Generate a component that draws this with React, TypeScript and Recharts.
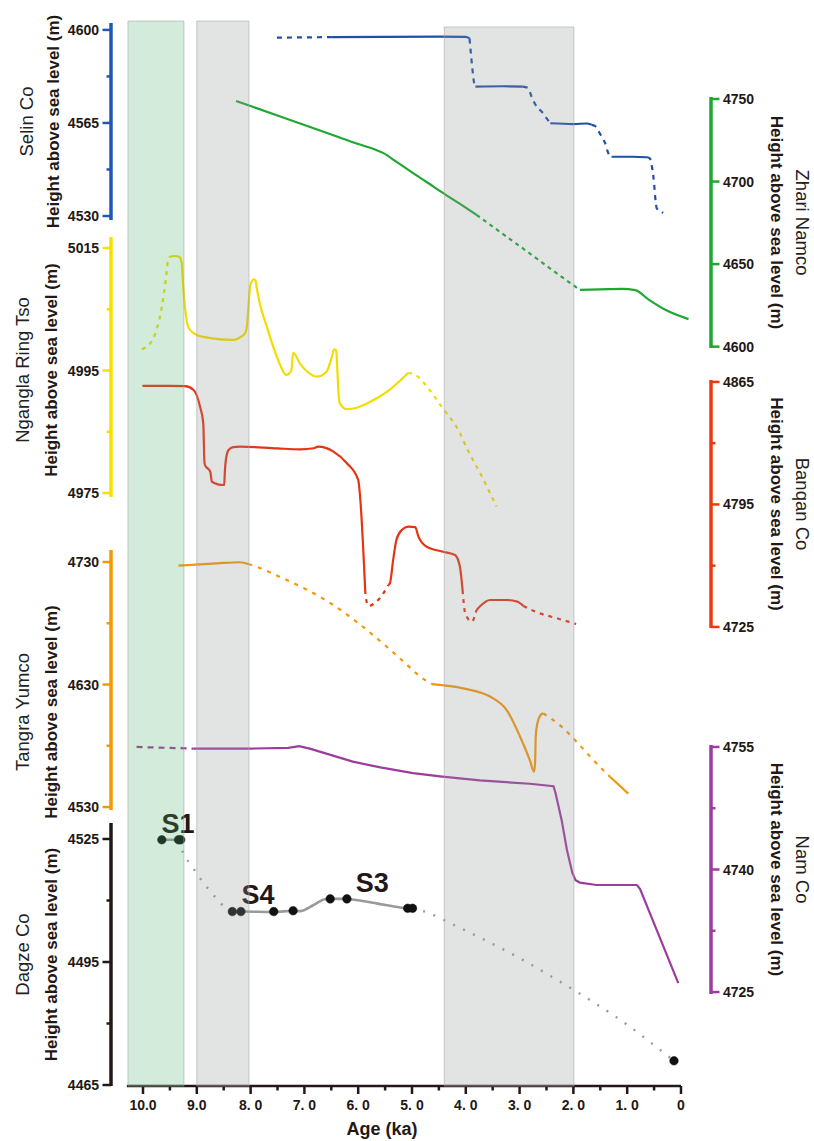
import type { ReactNode } from 'react'
import {
  ComposedChart,
  Line,
  XAxis,
  YAxis,
  ReferenceArea,
  ReferenceLine,
  ReferenceDot,
} from 'recharts'

const W = 814
const H = 1141
const PLOT_L = 111
const PLOT_R = 711
const FONT = '"Liberation Sans", Arial, Helvetica, sans-serif'
const INK = '#231815'

type Pt = [number, number] | null

// age axis (ka), drawn right to left
const ageDomain: [number, number] = [-0.558, 10.595]
const ageAxisSpan = [10.3, 0]
const ageTicks = [10, 9.5, 9, 8.5, 8, 7.5, 7, 6.5, 6, 5.5, 5, 4.5, 4, 3.5, 3, 2.5, 2, 1.5, 1, 0.5, 0]
const ageMajor = [10, 9, 8, 7, 6, 5, 4, 3, 2, 1, 0]
const ageLabels = ['10.0', '9.0', '8. 0', '7. 0', '6. 0', '5. 0', '4. 0', '3. 0', '2. 0', '1. 0', '0']

// shaded intervals (ka)
const bandAges = [
  [10.28, 9.24],
  [9.0, 8.03],
  [4.4, 1.99],
]
const bandTops = [1, 1, 0.9944]

// Selin Co
const selinTicks = [4530, 4547.5, 4565, 4582.5, 4600]
const selinLabels = [4530, 4565, 4600]
const selinSolid: Pt[] = [
  [6.49, 4597.3], [5.5, 4597.4], [4.5, 4597.5], [4.0, 4597.4], [3.93, 4596.8], null,
  [3.82, 4578.7], [3.3, 4578.8], [2.94, 4578.7], null,
  [2.43, 4564.9], [2.0, 4564.6], [1.75, 4564.8], [1.66, 4564.3], null,
  [1.29, 4552.3], [0.9, 4552.3], [0.63, 4552.1],
]
const selinDashed: Pt[] = [
  [7.51, 4597.1], [6.49, 4597.3], null,
  [3.93, 4596.8], [3.9, 4590], [3.87, 4584], [3.84, 4579.5], [3.82, 4578.7], null,
  [2.94, 4578.7], [2.84, 4578.1], [2.78, 4575], [2.68, 4571.1], [2.59, 4569.3], [2.5, 4566.8], [2.43, 4564.9], null,
  [1.66, 4564.3], [1.6, 4563.9], [1.51, 4561.1], [1.41, 4557.4], [1.35, 4553.6], [1.29, 4552.3], null,
  [0.63, 4552.1], [0.58, 4551.7], [0.53, 4547.3], [0.5, 4542.3], [0.48, 4537.3], [0.45, 4532.9], [0.33, 4531.2],
]

// Zhari Namco
const zhariTicks = [4600, 4650, 4700, 4750]
const zhariSolid: Pt[] = [
  [8.27, 4748.8], [7.5, 4740], [7.0, 4734.2], [6.5, 4728.5], [6.0, 4722.7], [5.7, 4719.5], [5.53, 4717.2],
  [5.3, 4712.2], [5.0, 4705.6], [4.7, 4699.1], [4.42, 4693], [4.1, 4686.3], [3.8, 4679.8], null,
  [1.88, 4634.4], [1.5, 4634.7], [1.1, 4635], [0.85, 4634.2], [0.6, 4628.5], [0.3, 4622.5], [-0.14, 4616.7],
]
const zhariDashed: Pt[] = [[3.8, 4679.8], [3.3, 4668], [2.8, 4656.2], [2.3, 4644.2], [1.88, 4634.4]]

// Ngangla Ring Tso
const ngTicks = [4975, 4985, 4995, 5005, 5015]
const ngLabels = [4975, 4995, 5015]
const ngSolid: Pt[] = [
  [9.5, 5013.6], [9.4, 5013.7], [9.32, 5013.5], [9.28, 5012.5], [9.26, 5009.8], [9.22, 5005.4], [9.15, 5001.9],
  [9.0, 5000.8], [8.75, 5000.3], [8.32, 5000], [8.2, 5000.4], [8.1, 5001.1], [8.07, 5002.2], [8.04, 5005.4],
  [8.01, 5008.7], [7.98, 5009.5], [7.94, 5009.9], [7.91, 5009.7], [7.89, 5008.7], [7.83, 5006], [7.7, 5002.2],
  [7.58, 4998.9], [7.45, 4995.9], [7.36, 4994.4], [7.33, 4994.3], [7.24, 4995.1], [7.21, 4997.9], [7.08, 4996.1],
  [6.9, 4994.5], [6.77, 4994.0], [6.59, 4994.8], [6.49, 4997.2], [6.45, 4998.4], [6.41, 4998.3], [6.39, 4995.6],
  [6.37, 4991.8], [6.34, 4989.6], [6.21, 4988.7], [6.09, 4988.8], [5.84, 4989.6], [5.47, 4991.5], [5.07, 4994.6],
]
const ngDashed: Pt[] = [
  [10.02, 4998.5], [9.87, 4999.4], [9.75, 5001.6], [9.65, 5005.4], [9.57, 5010.3], [9.53, 5013.3], [9.5, 5013.6], null,
  [5.07, 4994.6], [4.94, 4994.3], [4.67, 4991.8], [4.45, 4989.1], [4.11, 4984.8], [3.98, 4982.3], [3.83, 4979.8],
  [3.7, 4977.7], [3.55, 4975.0], [3.43, 4972.8],
]

// Banqan Co
const banqanTicks = [4725, 4760, 4795, 4830, 4865]
const banqanLabels = [4725, 4795, 4865]
const banqanSolid: Pt[] = [
  [10.01, 4862.7], [9.5, 4862.7], [9.22, 4862.6], [9.06, 4860.4], [8.94, 4850.9], [8.88, 4841.4], [8.86, 4820.4],
  [8.85, 4817.6], [8.75, 4813.7], [8.72, 4808], [8.61, 4806.5], [8.51, 4806.1], [8.49, 4806.1], [8.48, 4812.8],
  [8.46, 4820.4], [8.41, 4826.1], [8.32, 4827.7], [8.2, 4828], [7.5, 4827], [7.08, 4826.5], [6.83, 4827.1],
  [6.74, 4828], [6.46, 4825.2], [6.21, 4818.5], [6.0, 4809], [5.97, 4801.4], [5.87, 4746.1], null,
  [5.44, 4749], [5.41, 4750], [5.35, 4763.3], [5.29, 4774.7], [5.19, 4780.4], [5.07, 4782.3], [4.94, 4782],
  [4.88, 4776.6], [4.73, 4770.9], [4.42, 4768], [4.2, 4766.1], [4.11, 4759.5], [4.06, 4746.1], null,
  [3.8, 4734.7], [3.73, 4737], [3.55, 4740.4], [3.24, 4740.4], [3.05, 4739.5], [2.93, 4737],
]
const banqanDashed: Pt[] = [
  [5.87, 4746.1], [5.86, 4742.3], [5.81, 4737], [5.66, 4739.5], [5.53, 4744.3], [5.44, 4749], null,
  [4.06, 4746.1], [4.05, 4742.3], [4.01, 4732.8], [3.89, 4728], [3.8, 4734.7], null,
  [2.93, 4737], [2.68, 4733.4], [2.31, 4730], [1.95, 4726.7],
]

// Tangra Yumco
const tangraTicks = [4530, 4580, 4630, 4680, 4730]
const tangraLabels = [4530, 4630, 4730]
const tangraSolid: Pt[] = [
  [9.34, 4727], [8.63, 4728.9], [8.2, 4729.8], [8.04, 4728.4], null,
  [4.63, 4630.4], [4.05, 4626.9], [3.49, 4618.7], [3.24, 4609.2], [2.99, 4587.4], [2.81, 4568.4], [2.73, 4558.8],
  [2.71, 4568.4], [2.7, 4587.4], [2.67, 4598.3], [2.61, 4605.1], [2.56, 4606.5], null,
  [1.32, 4554.7], [0.98, 4541],
]
const tangraDashed: Pt[] = [
  [8.04, 4728.4], [7.83, 4725.1], [7.45, 4717.8], [6.52, 4696.5], [5.47, 4660.9], [5.19, 4650], [4.76, 4633.7],
  [4.63, 4630.4], null,
  [2.56, 4606.5], [2.22, 4595.6], [1.97, 4584.7], [1.63, 4568.4], [1.32, 4554.7],
]

// Nam Co
const namTicks = [4725, 4732.5, 4740, 4747.5, 4755]
const namLabels = [4725, 4740, 4755]
const namSolid: Pt[] = [
  [9.06, 4754.8], [8.0, 4754.8], [7.3, 4754.9], [7.1, 4755.1], [6.9, 4754.8], [6.5, 4754.0], [6.1, 4753.2],
  [5.59, 4752.5], [4.98, 4751.8], [4.48, 4751.4], [3.74, 4750.9], [2.81, 4750.5], [2.37, 4750.2], [2.33, 4749.3],
  [2.22, 4746.1], [2.12, 4742.4], [2.02, 4739.6], [1.96, 4738.7], [1.88, 4738.4], [1.57, 4738.1], [0.82, 4738.1],
  [0.76, 4737.6], [0.05, 4726.1],
]
const namDashed: Pt[] = [[10.12, 4755], [9.06, 4754.8]]

// Dagze Co
const dagzeTicks = [4465, 4480, 4495, 4510, 4525]
const dagzeLabels = [4465, 4495, 4525]
const dagzeLine: Pt[] = [
  [9.65, 4524.8], [9.31, 4524.8], null,
  [8.34, 4507.3], [8.18, 4507.3], [7.57, 4507.2], [7.21, 4507.5], [7.08, 4507.4], [6.83, 4508.9], [6.62, 4510.3],
  [6.52, 4510.4], [6.21, 4510.4], [6.15, 4510.3], [5.66, 4509.3], [5.22, 4508.3], [5.08, 4508.1], [4.99, 4508.1],
]
const dagzeDotted: Pt[] = [
  [9.31, 4524.8], [9.26, 4521.7], [9.13, 4519.1], [9.0, 4516.6], [8.87, 4514.2], [8.72, 4511.8], [8.57, 4509.5],
  [8.34, 4507.3], null,
  [4.99, 4508.1], [4.7, 4507], [4.28, 4504.4], [3.05, 4496.3], [2.06, 4488.7], [1.13, 4480.9], [0.13, 4470.9],
]
const dagzeSamples: Pt[] = [
  [9.65, 4524.8], [9.34, 4524.8], [9.3, 4524.8], [8.34, 4507.3], [8.18, 4507.3], [7.57, 4507.3], [7.21, 4507.5],
  [6.52, 4510.4], [6.21, 4510.4], [5.08, 4508.1], [4.99, 4508.1], [0.13, 4470.9],
]
const stageNames = [
  { age: 9.35, h: 4528.9, text: 'S1' },
  { age: 7.86, h: 4511.6, text: 'S4' },
  { age: 5.74, h: 4514.3, text: 'S3' },
]

const rows = (pts: Pt[]) => {
  let last = 0
  return pts.map((p) => {
    if (!p) return { age: last, h: null }
    last = p[0]
    return { age: p[0], h: p[1] }
  })
}

const trace = (
  key: string,
  pts: Pt[],
  color: string,
  dash?: string,
  width = 2.2,
  curve: 'monotone' | 'linear' = 'monotone',
) => (
  <Line
    key={key}
    data={rows(pts)}
    dataKey="h"
    type={curve}
    stroke={color}
    strokeWidth={width}
    strokeDasharray={dash}
    dot={false}
    activeDot={false}
    isAnimationActive={false}
  />
)

const yTick = (left: boolean, color: string, labels: number[]) => (props: any) => {
  const { x, y, payload } = props
  const major = labels.includes(payload.value)
  const dir = left ? -1 : 1
  return (
    <g>
      <line x1={x} x2={x + dir * (major ? 8.5 : 4.5)} y1={y} y2={y} stroke={color} strokeWidth={2.5} />
      {major && (
        <text
          x={x + dir * 12}
          y={y}
          textAnchor={left ? 'end' : 'start'}
          dominantBaseline="central"
          fontFamily={FONT}
          fontWeight="bold"
          fontSize={14}
          fill={INK}
        >
          {payload.value}
        </text>
      )}
    </g>
  )
}

const AgeTick = (props: any) => {
  const { x, y, payload } = props
  const i = ageMajor.indexOf(payload.value)
  return (
    <g>
      <line x1={x} x2={x} y1={y} y2={y + (i >= 0 ? 8 : 4.5)} stroke={INK} strokeWidth={2.5} />
      {i >= 0 && (
        <text x={x} y={y + 24} textAnchor="middle" fontFamily={FONT} fontWeight="bold" fontSize={14} fill={INK}>
          {ageLabels[i]}
        </text>
      )}
    </g>
  )
}

type PanelProps = {
  side: 'left' | 'right'
  top: number
  bottom: number
  domain: [number, number]
  ticks: number[]
  labels: number[]
  color: string
  name: string
  nameX?: number
  shift?: number
  className?: string
  overflow?: boolean
  withAge?: boolean
  children: ReactNode
}

function Panel({
  side, top, bottom, domain, ticks, labels, color, name, nameX, shift = 0, className, overflow, withAge, children,
}: PanelProps) {
  const left = side === 'left'
  const ageH = withAge ? 55 : 0
  const margin = left
    ? { top, bottom: H - bottom - ageH, left: PLOT_L - 60, right: W - PLOT_R }
    : { top, bottom: H - bottom - ageH, left: PLOT_L, right: W - PLOT_R - 60 }
  const mid = (top + bottom) / 2 + shift
  const rot = left ? -90 : 90
  const title = () => (
    <g fontFamily={FONT}>
      <text
        transform={`translate(${nameX ?? (left ? 29 : 796)},${mid}) rotate(${rot})`}
        textAnchor="middle"
        fontSize={18.5}
        fill="#222"
      >
        {name}
      </text>
      <text
        transform={`translate(${left ? (nameX === 33 ? 59 : 57) : 771},${mid}) rotate(${rot})`}
        textAnchor="middle"
        fontSize={17}
        fontWeight="bold"
        fill={INK}
      >
        Height above sea level (m)
      </text>
    </g>
  )
  return (
    <div className={className} style={{ position: 'absolute', left: 0, top: 0 }}>
      <ComposedChart width={W} height={H} margin={margin}>
        <XAxis
          dataKey="age"
          type="number"
          domain={ageDomain}
          reversed
          hide={!withAge}
          height={55}
          ticks={ageTicks}
          interval={0}
          axisLine={false}
          tickLine={false}
          tickSize={0}
          tickMargin={0}
          tick={AgeTick}
          label={{
            content: () => (
              <text x={382} y={1135} textAnchor="middle" fontFamily={FONT} fontWeight="bold" fontSize={18} fill={INK}>
                Age (ka)
              </text>
            ),
          }}
        />
        <YAxis
          orientation={side}
          type="number"
          width={60}
          domain={domain}
          allowDataOverflow={overflow}
          ticks={ticks}
          interval={0}
          axisLine={{ stroke: color, strokeWidth: 3.5 }}
          tickLine={false}
          tickSize={0}
          tickMargin={0}
          tick={yTick(left, color, labels)}
          label={{ content: title }}
        />
        {children}
      </ComposedChart>
    </div>
  )
}

export default function App() {
  const dagzeDomain: [number, number] = [4464.76, 4528.9]
  const bandEdges = bandAges.flat().map((age) => ({ age, v: 0.5 }))
  return (
    <div style={{ position: 'absolute', left: 0, top: 0, width: W, height: H, background: '#fff' }}>
      <style>{'.ngangla [clip-path]{clip-path:none !important}'}</style>
      <Panel side="left" top={23} bottom={220} domain={[4528.5, 4602.6]} ticks={selinTicks} labels={selinLabels}
        color="#2157b4" name="Selin Co" nameX={33}>
        {trace('selin-d', selinDashed, '#1f4fa8', '5 5')}
        {trace('selin-s', selinSolid, '#1f4fa8')}
      </Panel>
      <Panel side="right" top={97} bottom={348} domain={[4599.2, 4751.2]} ticks={zhariTicks} labels={zhariTicks}
        color="#1ea831" name="Zhari Namco">
        {trace('zhari-d', zhariDashed, '#1ea831', '4 4')}
        {trace('zhari-s', zhariSolid, '#1ea831')}
      </Panel>
      <Panel side="left" top={237} bottom={497} domain={[4974.35, 5016.8]} ticks={ngTicks} labels={ngLabels}
        color="#f6e000" name="Ngangla Ring Tso" shift={3} className="ngangla" overflow>
        {trace('ng-d', ngDashed, '#efdb00', '4 5')}
        {trace('ng-s', ngSolid, '#f2dd00')}
      </Panel>
      <Panel side="right" top={380} bottom={628} domain={[4724.4, 4866.1]} ticks={banqanTicks} labels={banqanLabels}
        color="#ea3b10" name="Banqan Co">
        {trace('bq-d', banqanDashed, '#e63312', '4 5')}
        {trace('bq-s', banqanSolid, '#e63312')}
      </Panel>
      <Panel side="left" top={550} bottom={810} domain={[4527.6, 4739.8]} ticks={tangraTicks} labels={tangraLabels}
        color="#f39a00" name="Tangra Yumco" shift={32}>
        {trace('tg-d', tangraDashed, '#f4970c', '4 6')}
        {trace('tg-s', tangraSolid, '#f4970c')}
      </Panel>
      <Panel side="right" top={745} bottom={994} domain={[4724.76, 4755.24]} ticks={namTicks} labels={namLabels}
        color="#9b3d9d" name="Nam Co">
        {trace('nam-d', namDashed, '#9c3d9e', '6 5')}
        {trace('nam-s', namSolid, '#9c3d9e', undefined, 2.2, 'linear')}
      </Panel>
      <Panel side="left" top={823} bottom={1086} domain={dagzeDomain} ticks={dagzeTicks} labels={dagzeLabels}
        color={INK} name="Dagze Co" withAge>
        <ReferenceLine
          segment={[{ x: ageAxisSpan[0], y: dagzeDomain[0] }, { x: ageAxisSpan[1], y: dagzeDomain[0] }]}
          stroke={INK}
          strokeWidth={2.5}
          ifOverflow="visible"
        />
        {trace('dz-dot', dagzeDotted, '#9a9a9a', '2 9', 2.4)}
        {trace('dz-line', dagzeLine, '#9a9a9a', undefined, 2.6)}
        <Line
          data={rows(dagzeSamples)}
          dataKey="h"
          stroke="none"
          dot={{ r: 4.3, fill: '#111', stroke: '#111', strokeWidth: 0.5 }}
          activeDot={false}
          isAnimationActive={false}
        />
        {stageNames.map((s) => (
          <ReferenceDot
            key={s.text}
            x={s.age}
            y={s.h}
            r={1}
            fill="none"
            stroke="none"
            ifOverflow="visible"
            label={{ value: s.text, position: 'center', fontSize: 27, fontWeight: 'bold', fill: INK, fontFamily: FONT }}
          />
        ))}
      </Panel>
      <div style={{ position: 'absolute', left: 0, top: 0, pointerEvents: 'none' }}>
        <ComposedChart
          width={W}
          height={H}
          data={bandEdges}
          margin={{ top: 21, bottom: H - 1086, left: PLOT_L, right: W - PLOT_R }}
        >
          <XAxis hide dataKey="age" type="number" domain={ageDomain} reversed />
          <YAxis hide type="number" domain={[0, 1]} />
          <Line dataKey="v" stroke="none" dot={false} activeDot={false} isAnimationActive={false} />
          {bandAges.map(([a, b], i) => (
            <ReferenceArea
              key={i}
              x1={a}
              x2={b}
              y1={0}
              y2={bandTops[i]}
              fill={i === 0 ? '#4fae6c' : '#8f9494'}
              fillOpacity={i === 0 ? 0.25 : 0.26}
              stroke="#a8a8a8"
              strokeOpacity={0.6}
              strokeWidth={1}
            />
          ))}
        </ComposedChart>
      </div>
    </div>
  )
}
